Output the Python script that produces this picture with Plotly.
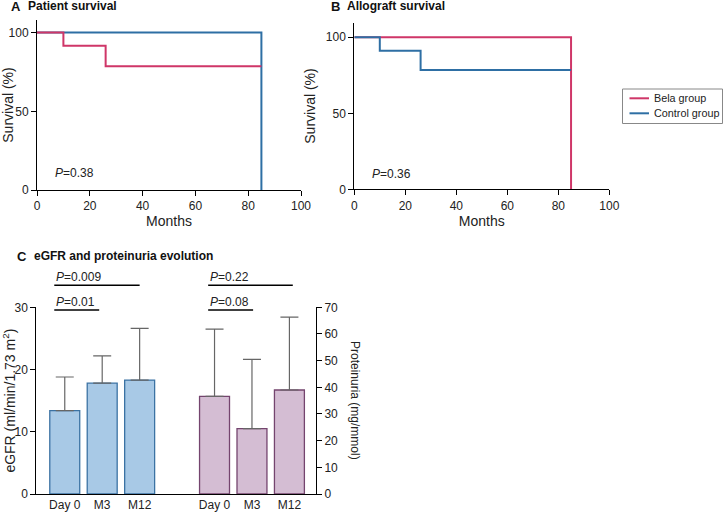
import plotly.graph_objects as go

# ---------------- data ----------------
# Panel A: patient survival (Kaplan-Meier steps)
pat_bela_months = [0, 10, 26, 85]
pat_bela_surv = [100, 91.7, 78.6, 78.6]
pat_ctrl_months = [0, 85, 85]
pat_ctrl_surv = [100, 100, 0]
pat_p = "0.38"

# Panel B: allograft survival
graft_bela_months = [0, 85, 85]
graft_bela_surv = [100, 100, 0]
graft_ctrl_months = [0, 10, 26, 85]
graft_ctrl_surv = [100, 91.2, 78.5, 78.5]
graft_p = "0.36"

# Panel C: eGFR and proteinuria evolution
timepoints = ["Day 0", "M3", "M12"]
egfr_cats = ["eGFR Day 0", "eGFR M3", "eGFR M12"]
prot_cats = ["Prot Day 0", "Prot M3", "Prot M12"]
gap_cat = " "
egfr_mean = [13.4, 17.8, 18.3]
egfr_sd = [5.4, 4.4, 8.3]
prot_mean = [36.6, 24.5, 39.0]
prot_sd = [25.2, 26.0, 27.3]
egfr_p = ["0.009", "0.01"]
prot_p = ["0.22", "0.08"]

group_names = ["Bela group", "Control group"]

# ---------------- styles ----------------
RED = "#cf3668"
BLUE = "#2e6fa4"
FONT = "Liberation Sans, Arial, sans-serif"
W, H = 725, 512

def px_x(p):
    return p / W

def px_y(p):
    return 1 - p / H

fig = go.Figure()

# Panel A
fig.add_trace(go.Scatter(x=pat_ctrl_months, y=pat_ctrl_surv, mode="lines", line=dict(color=BLUE, width=2, shape="hv"),
                         name=group_names[1], showlegend=False, xaxis="x", yaxis="y"))
fig.add_trace(go.Scatter(x=pat_bela_months, y=pat_bela_surv, mode="lines", line=dict(color=RED, width=2, shape="hv"),
                         name=group_names[0], showlegend=False, xaxis="x", yaxis="y"))
# Panel B
fig.add_trace(go.Scatter(x=graft_bela_months, y=graft_bela_surv, mode="lines", line=dict(color=RED, width=2, shape="hv"),
                         name=group_names[0], showlegend=False, xaxis="x2", yaxis="y2"))
fig.add_trace(go.Scatter(x=graft_ctrl_months, y=graft_ctrl_surv, mode="lines", line=dict(color=BLUE, width=2, shape="hv"),
                         name=group_names[1], showlegend=False, xaxis="x2", yaxis="y2"))

# Panel C
fig.add_trace(go.Bar(x=egfr_cats, y=egfr_mean, xaxis="x3", yaxis="y3", showlegend=False,
                     marker=dict(color="#a8c9e6", line=dict(color="#3b72a3", width=1.3)),
                     error_y=dict(type="data", array=egfr_sd, arrayminus=[0] * 3, symmetric=False,
                                  color="#666666", thickness=1.2, width=9)))
fig.add_trace(go.Bar(x=prot_cats, y=prot_mean, xaxis="x3", yaxis="y4", showlegend=False,
                     marker=dict(color="#d4bdd3", line=dict(color="#74446e", width=1.3)),
                     error_y=dict(type="data", array=prot_sd, arrayminus=[0] * 3, symmetric=False,
                                  color="#666666", thickness=1.2, width=9)))

axis_common = dict(showline=True, linecolor="black", linewidth=1, ticks="outside", ticklen=5,
                   tickcolor="black", showgrid=False, zeroline=False, automargin=False,
                   tickfont=dict(family=FONT, size=12, color="#222"))

fig.update_layout(
    width=W, height=H, margin=dict(l=0, r=0, t=0, b=0, autoexpand=False),
    paper_bgcolor="white", plot_bgcolor="white",
    font=dict(family=FONT, size=12, color="#222"),
    barmode="overlay", bargap=0.2,
    showlegend=False,
    xaxis=dict(domain=[px_x(37), px_x(301)], range=[0, 100], tickvals=[0, 20, 40, 60, 80, 100],
               anchor="y", title=dict(text="Months", standoff=0), **axis_common),
    yaxis=dict(domain=[px_y(190), px_y(20)], range=[0, 108], tickvals=[0, 50, 100],
               anchor="x", title=dict(text="Survival (%)", standoff=6), **axis_common),
    xaxis2=dict(domain=[px_x(354.3), px_x(609.3)], range=[0, 100], tickvals=[0, 20, 40, 60, 80, 100],
                anchor="y2", title=dict(text="Months", standoff=0), **axis_common),
    yaxis2=dict(domain=[px_y(189.3), px_y(22.7)], range=[0, 109.6], tickvals=[0, 50, 100],
                anchor="x2", title=dict(text="Survival (%)", standoff=6), **axis_common),
    xaxis3=dict(domain=[px_x(36.3), px_x(316)], type="category",
                categoryorder="array", categoryarray=egfr_cats + [gap_cat] + prot_cats,
                range=[-0.76, 6.71], tickmode="array", tickvals=egfr_cats + prot_cats,
                ticktext=timepoints + timepoints, anchor="y3", automargin=False,
                showline=True, linecolor="black", linewidth=1, ticks="", showgrid=False,
                zeroline=False, tickfont=dict(family=FONT, size=12, color="#222")),
    yaxis3=dict(domain=[px_y(494), px_y(307.3)], range=[0, 30], tickvals=[0, 10, 20, 30],
                anchor="x3", title=dict(text="eGFR (ml/min/1.73 m<sup>2</sup>)", standoff=9), **axis_common),
    yaxis4=dict(range=[0, 70], tickvals=[0, 10, 20, 30, 40, 50, 60, 70], overlaying="y3",
                side="right", anchor="x3", **axis_common),
)

ann = []
shapes = []

def title_ann(letter, text, xl, xt, yc):
    ann.append(dict(text="<b>%s</b>" % letter, x=px_x(xl), y=px_y(yc), xref="paper", yref="paper",
                    xanchor="left", yanchor="middle", showarrow=False, font=dict(size=13, color="#111")))
    ann.append(dict(text="<b>%s</b>" % text, x=px_x(xt), y=px_y(yc), xref="paper", yref="paper",
                    xanchor="left", yanchor="middle", showarrow=False, font=dict(size=12, color="#111")))

title_ann("A", "Patient survival", 9, 26, 6)
title_ann("B", "Allograft survival", 329, 345, 6)
title_ann("C", "eGFR and proteinuria evolution", 15, 32, 256)

ann.append(dict(text="<i>P</i>=" + pat_p, x=6, y=10.8, xref="x", yref="y", xanchor="left",
                yanchor="middle", showarrow=False, font=dict(size=12)))
ann.append(dict(text="<i>P</i>=" + graft_p, x=6, y=10.3, xref="x2", yref="y2", xanchor="left",
                yanchor="middle", showarrow=False, font=dict(size=12)))

ann.append(dict(text="Proteinuria (mg/mmol)", textangle=90, x=px_x(355), y=px_y(400),
                xref="paper", yref="paper", xanchor="center", yanchor="middle",
                showarrow=False, font=dict(size=12)))

# legend (drawn manually to match the compact box)
shapes.append(dict(type="rect", xref="paper", yref="paper", x0=px_x(622.5), x1=px_x(722.5),
                   y0=px_y(89), y1=px_y(123.5), line=dict(color="#888", width=1), fillcolor="white"))
for name, color, yc in [(group_names[0], RED, 98.3), (group_names[1], BLUE, 113.3)]:
    shapes.append(dict(type="line", xref="paper", yref="paper", x0=px_x(629.5), x1=px_x(649),
                       y0=px_y(yc), y1=px_y(yc), line=dict(color=color, width=2)))
    ann.append(dict(text=name, x=px_x(652), y=px_y(yc), xref="paper", yref="paper",
                    xanchor="left", yanchor="middle", showarrow=False, font=dict(size=10.8)))

# significance brackets
brackets = [
    (egfr_p[0], -0.30, -0.28, 2.0, 276.7, 285.3),
    (egfr_p[1], -0.30, -0.28, 0.92, 301.7, 310.0),
    (prot_p[0], 3.83, 3.83, 6.09, 276.7, 285.3),
    (prot_p[1], 3.83, 3.83, 5.03, 301.7, 310.0),
]
for ptxt, xt, x0, x1, yt, yl in brackets:
    ann.append(dict(text="<i>P</i>=" + ptxt, x=xt, y=px_y(yt), xref="x3", yref="paper",
                    xanchor="left", yanchor="middle", showarrow=False, font=dict(size=12)))
    shapes.append(dict(type="line", xref="x3", yref="paper", x0=x0, x1=x1, y0=px_y(yl), y1=px_y(yl),
                       line=dict(color="black", width=1.5)))

fig.update_layout(annotations=ann, shapes=shapes)

fig.write_html("out.html", config={"displayModeBar": False},
               post_script="document.body.style.margin='0';")
